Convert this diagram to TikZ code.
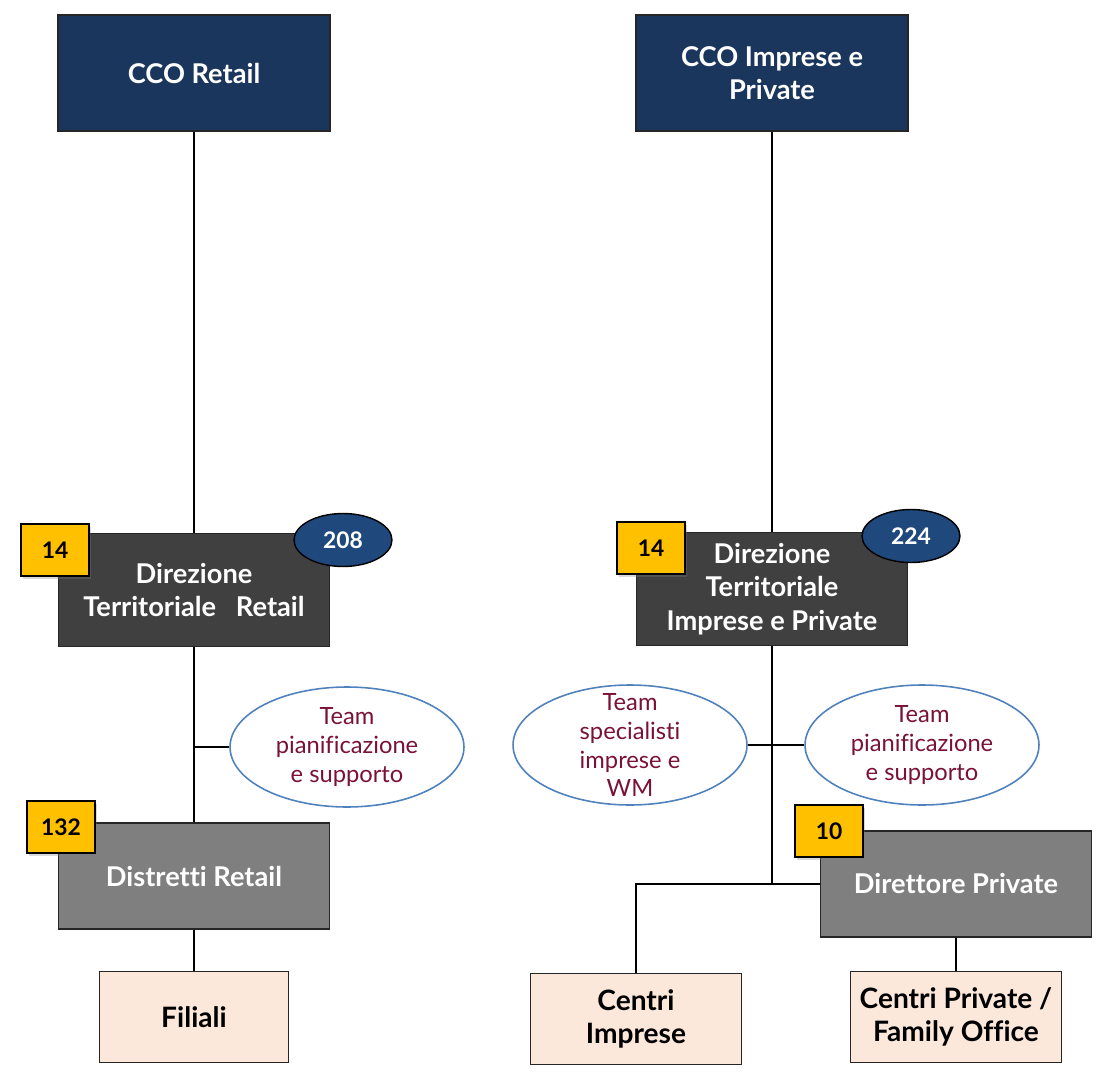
\documentclass[tikz,border=0pt]{standalone}
\usepackage{fontspec}
\setmainfont{Lato}[Ligatures={NoCommon}]
\usepackage{xcolor}
\usetikzlibrary{positioning,shapes.geometric,shadows}

\definecolor{ccoblue}{HTML}{1B365D}
\definecolor{dirgray}{HTML}{404040}
\definecolor{midgray}{HTML}{7F7F7F}
\definecolor{peach}{HTML}{FCE8DA}
\definecolor{badgeyellow}{HTML}{FFC000}
\definecolor{countblue}{HTML}{1F497D}
\definecolor{teamborder}{HTML}{4F81BD}
\definecolor{teamred}{HTML}{7A1136}

\begin{document}
\begin{tikzpicture}[
    x=0.02cm, y=-0.02cm,
    box/.style={rectangle, draw=black!85, line width=0.8pt, text=white, align=center,
        inner sep=2pt, font=\fontsize{15.5}{19}\selectfont\bfseries},
    cco/.style={box, fill=ccoblue, minimum width=5.44cm, minimum height=2.32cm},
    direz/.style={box, fill=dirgray, minimum width=5.42cm, minimum height=2.26cm},
    sub/.style={box, fill=midgray, minimum width=5.42cm, minimum height=2.12cm},
    unit/.style={box, fill=peach, text=black, minimum width=4.22cm, minimum height=1.82cm,
        font=\fontsize{16}{19}\selectfont\bfseries},
    badge/.style={rectangle, draw=black, line width=0.8pt, fill=badgeyellow,
        minimum width=1.36cm, minimum height=1.04cm, font=\fontsize{13}{15}\selectfont\bfseries,
        drop shadow={shadow xshift=0.4mm, shadow yshift=-0.6mm, opacity=0.3}},
    count/.style={ellipse, draw=black, line width=0.8pt, fill=countblue, text=white,
        minimum width=1.96cm, minimum height=1.06cm, inner sep=0pt,
        font=\fontsize{13}{15}\selectfont\bfseries},
    team/.style={ellipse, draw=teamborder, line width=0.9pt, fill=white,
        minimum width=4.68cm, minimum height=2.4cm, inner sep=0pt},
    teamtxt/.style={text=teamred, align=center, inner sep=0pt,
        font=\fontsize{13.5}{16.5}\selectfont},
    link/.style={line width=1pt, black}
]
    \useasboundingbox (0,0) rectangle (1101,1074);

    % Top level
    \node[cco] (ccoR) at (194,73) {CCO Retail};
    \node[cco] (ccoIP) at (772,73) {CCO Imprese e\\Private};

    % Direzioni territoriali
    \node[direz] (dtR) at (194,590) {Direzione\\Territoriale\ \ \ Retail};
    \node[direz] (dtIP) at (772,589) {Direzione\\Territoriale\\Imprese e Private};

    % Teams
    \node[team, label={[teamtxt]center:{Team\\pianificazione\\e supporto}}] (teamR) at (347,747) {};
    \node[team, label={[teamtxt]center:{Team\\specialisti\\imprese e\\WM}}] (teamS) at (630,745) {};
    \node[team, label={[teamtxt]center:{Team\\pianificazione\\e supporto}}] (teamP) at (922,745) {};

    % Second level
    \node[sub] (distR) at (194,876) {Distretti Retail};
    \node[sub] (dirP) at (956,884) {Direttore Private};

    % Units
    \node[unit, minimum width=3.78cm] (filiali) at (194,1017) {Filiali};
    \node[unit] (centriI) at (636,1019) {Centri\\Imprese};
    \node[unit] (centriP) at (956,1017) {Centri Private /\\Family Office};

    % Connectors
    \coordinate (jR) at (dtR.south |- teamR.west);
    \coordinate (jIP) at (dtIP.south |- dirP.west);
    \draw[link] (ccoR) -- (dtR);
    \draw[link] (dtR) -- (distR);
    \draw[link] (jR) -- (teamR);
    \draw[link] (distR) -- (filiali);
    \draw[link] (ccoIP) -- (dtIP);
    \draw[link] (dtIP) -- (jIP);
    \draw[link] (teamS) -- (teamP);
    \draw[link] (dirP.west) -| (centriI);
    \draw[link] (dirP) -- (centriP);

    % Badges and counts
    \node[badge] (nR) at (55,550) {14};
    \node[badge] (nDist) at (61,827) {132};
    \node[badge] (nIP) at (651,548) {14};
    \node[badge] (nPriv) at (829,831) {10};
    \node[count] (cR) at (343,540) {208};
    \node[count] (cIP) at (911,536) {224};
\end{tikzpicture}
\end{document}
